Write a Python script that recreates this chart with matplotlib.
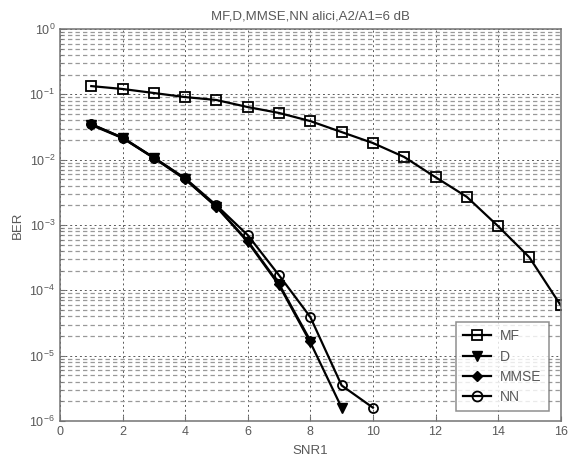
import numpy as np
import matplotlib
matplotlib.use("Agg")
import matplotlib.pyplot as plt
from matplotlib.ticker import LogLocator, FixedLocator, NullFormatter

# SNR values
snr_mf = [1, 2, 3, 4, 5, 6, 7, 8, 9, 10, 11, 12, 13, 14, 15, 16]
ber_mf = [0.134, 0.121, 0.105, 0.091, 0.082, 0.064, 0.052, 0.039, 0.0265,
          0.0180, 0.0110, 0.0054, 0.0027, 9.6e-4, 3.2e-4, 5.9e-5]

snr_d = [1, 2, 3, 4, 5, 6, 7, 8, 9]
ber_d = [0.034, 0.0214, 0.0106, 0.0050, 0.0019, 5.5e-4, 1.2e-4, 1.6e-5, 1.6e-6]

snr_mmse = [1, 2, 3, 4, 5, 6, 7, 8]
ber_mmse = [0.035, 0.0216, 0.0107, 0.0051, 0.0019, 5.7e-4, 1.25e-4, 1.7e-5]

snr_nn = [1, 2, 3, 4, 5, 6, 7, 8, 9, 10]
ber_nn = [0.035, 0.0218, 0.0108, 0.0052, 0.0020, 7.0e-4, 1.7e-4, 3.9e-5, 3.5e-6, 1.6e-6]

plt.rcParams["font.family"] = "Liberation Sans"
plt.rcParams["font.size"] = 9

fig = plt.figure(figsize=(5.69, 4.66), dpi=100)
ax = fig.add_axes([0.1054, 0.0966, 0.880, 0.841])

lw = 1.6
ax.semilogy(snr_mf, ber_mf, "k-s", lw=lw, ms=6.5, mfc="none", mew=1.3, label="MF")
ax.semilogy(snr_d, ber_d, "k-v", lw=lw, ms=6.5, mfc="k", mew=1.0, label="D")
ax.semilogy(snr_mmse, ber_mmse, "k-D", lw=lw, ms=5, mfc="k", mew=1.0, label="MMSE")
ax.semilogy(snr_nn, ber_nn, "k-o", lw=lw, ms=6.5, mfc="none", mew=1.3, label="NN")

ax.set_xlim(0, 16)
ax.set_ylim(1e-6, 1e0)
ax.xaxis.set_major_locator(FixedLocator(np.arange(0, 17, 2)))
ax.yaxis.set_major_locator(LogLocator(base=10, numticks=10))
ax.yaxis.set_minor_locator(LogLocator(base=10, subs=np.arange(2, 10), numticks=20))
ax.yaxis.set_minor_formatter(NullFormatter())

ax.grid(True, which="major", axis="both", color="0.35", ls=(0, (2, 3)), lw=0.7)
ax.grid(True, which="minor", axis="y", color="0.6", ls=(0, (3.5, 2.5)), lw=0.9)

for sp in ax.spines.values():
    sp.set_color("0.45")
    sp.set_linewidth(1.1)
ax.tick_params(which="both", direction="in", color="0.45", labelcolor="0.35",
               labelsize=9)
ax.tick_params(which="minor", length=2)

ax.set_title("MF,D,MMSE,NN alici,A2/A1=6 dB", fontsize=9.5, color="0.35", pad=7)
ax.set_xlabel("SNR1", color="0.35", fontsize=9.5, labelpad=5)
ax.set_ylabel("BER", color="0.35", fontsize=9.5)

leg = ax.legend(loc="lower right", bbox_to_anchor=(0.976, 0.0255), borderaxespad=0,
                fontsize=10, frameon=True, fancybox=False, edgecolor="0.45",
                handlelength=2.0, handletextpad=0.65, borderpad=0.5,
                labelspacing=0.45, markerscale=1.1)
leg.get_frame().set_linewidth(1.1)
for t in leg.get_texts():
    t.set_color("0.35")

fig.savefig("out.png", dpi=100)
